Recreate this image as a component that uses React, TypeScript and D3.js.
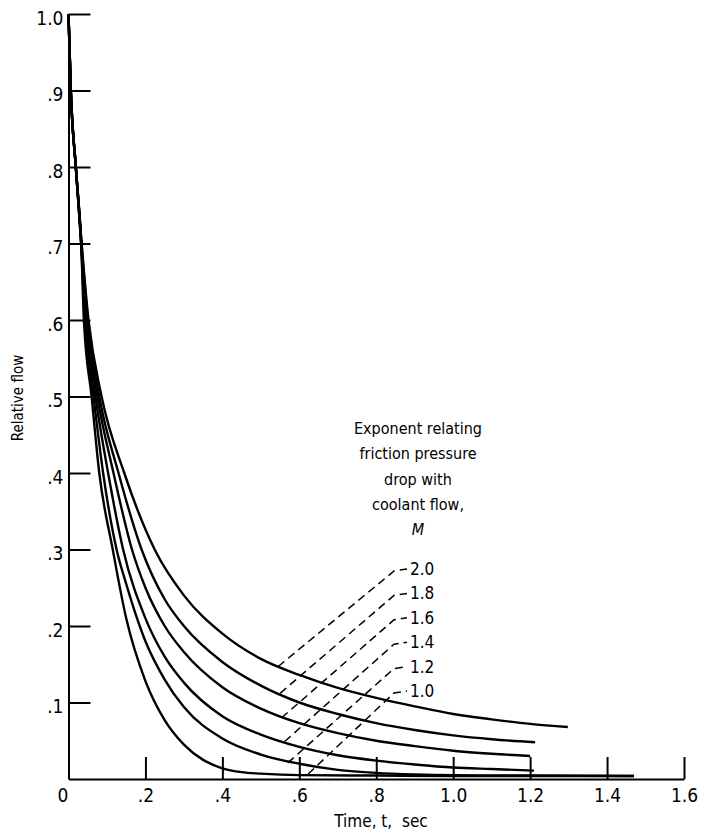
import React, { useEffect, useRef } from "react";
import * as d3 from "d3";

// relative flow vs time, one series per exponent M  ([time, flow])
const curveM20: [number, number][] = [
    [0, 1], [0.006, 0.9], [0.019, 0.8], [0.034, 0.7], [0.052, 0.6], [0.086, 0.5],
    [0.145, 0.4], [0.224, 0.3], [0.3, 0.24], [0.4, 0.19], [0.5, 0.157], [0.6, 0.136],
    [0.7, 0.119], [0.8, 0.106], [0.9, 0.095], [1.0, 0.085], [1.1, 0.078], [1.2, 0.072],
    [1.298, 0.068],
];
const curveM18: [number, number][] = [
    [0, 1], [0.006, 0.9], [0.019, 0.8], [0.034, 0.7], [0.05, 0.6], [0.08, 0.5],
    [0.13, 0.4], [0.19, 0.3], [0.25, 0.235], [0.3, 0.2], [0.4, 0.153], [0.5, 0.122],
    [0.6, 0.1], [0.7, 0.085], [0.8, 0.073], [0.9, 0.064], [1.0, 0.057], [1.1, 0.052],
    [1.213, 0.048],
];
const curveM16: [number, number][] = [
    [0, 1], [0.006, 0.9], [0.019, 0.8], [0.033, 0.7], [0.047, 0.6], [0.075, 0.5],
    [0.117, 0.4], [0.165, 0.3], [0.2, 0.25], [0.25, 0.2], [0.3, 0.166], [0.4, 0.12],
    [0.5, 0.092], [0.6, 0.073], [0.7, 0.06], [0.8, 0.05], [0.9, 0.043], [1.0, 0.037],
    [1.1, 0.033], [1.2, 0.03],
];
const curveM14: [number, number][] = [
    [0, 1], [0.006, 0.9], [0.019, 0.8], [0.033, 0.7], [0.045, 0.6], [0.07, 0.5],
    [0.103, 0.4], [0.142, 0.3], [0.2, 0.21], [0.25, 0.16], [0.3, 0.126], [0.4, 0.082],
    [0.5, 0.058], [0.6, 0.042], [0.7, 0.031], [0.8, 0.024], [0.9, 0.019], [1.0, 0.015],
    [1.1, 0.013], [1.21, 0.011],
];
const curveM12: [number, number][] = [
    [0, 1], [0.006, 0.9], [0.019, 0.8], [0.033, 0.7], [0.042, 0.6], [0.065, 0.5],
    [0.09, 0.4], [0.125, 0.3], [0.15, 0.255], [0.2, 0.18], [0.25, 0.13], [0.3, 0.094],
    [0.4, 0.053], [0.5, 0.032], [0.6, 0.02], [0.7, 0.012], [0.8, 0.008], [0.9, 0.006],
    [1.0, 0.005], [1.2, 0.0045], [1.47, 0.004],
];
const curveM10: [number, number][] = [
    [0, 1], [0.006, 0.9], [0.019, 0.8], [0.033, 0.7], [0.04, 0.6], [0.06, 0.5],
    [0.08, 0.4], [0.115, 0.3], [0.15, 0.21], [0.2, 0.128], [0.25, 0.077], [0.3, 0.045],
    [0.35, 0.025], [0.4, 0.014], [0.45, 0.009], [0.5, 0.007], [0.6, 0.005], [0.8, 0.0045],
    [1.0, 0.004], [1.47, 0.004],
];

const exponentLabels = ["2.0", "1.8", "1.6", "1.4", "1.2", "1.0"];
// point on each curve where its dashed leader line ends
const leaderAnchors: [number, number][] = [
    [0.545, 0.147], [0.55, 0.112], [0.554, 0.08], [0.562, 0.049], [0.57, 0.021], [0.623, 0.0065],
];

const xTicks = [0, 0.2, 0.4, 0.6, 0.8, 1.0, 1.2, 1.4, 1.6];
const xTickLabels = ["0", ".2", ".4", ".6", ".8", "1.0", "1.2", "1.4", "1.6"];
const yTicks = [0.1, 0.2, 0.3, 0.4, 0.5, 0.6, 0.7, 0.8, 0.9, 1.0];
const yTickLabels = [".1", ".2", ".3", ".4", ".5", ".6", ".7", ".8", ".9", "1.0"];
const legendTitle = ["Exponent relating", "friction pressure", "drop with", "coolant flow,", "M"];

const font = "'DejaVu Sans Condensed', 'Liberation Sans Narrow', sans-serif";

const App = () => {
    const chart = useRef<SVGSVGElement>(null);
    const dim = { width: 702, height: 836 };

    useEffect(() => {
        document.body.style.margin = "0";
        const svg = d3
            .select(chart.current)
            .attr("width", dim.width)
            .attr("height", dim.height)
            .style("background-color", "#fff")
            .style("display", "block");
        svg.selectAll("*").remove();

        const x = d3.scaleLinear().domain([0, 1.6]).range([68.5, 684]);
        const y = d3.scaleLinear().domain([0, 1]).range([779, 14]);

        // y axis, ticks pointing inward
        const yAxis = svg
            .append("g")
            .attr("transform", `translate(${x(0)},0)`)
            .call(
                d3.axisLeft(y)
                    .tickValues(yTicks)
                    .tickSize(-22)
                    .tickSizeOuter(0)
                    .tickPadding(5)
                    .tickFormat((d, i) => yTickLabels[i])
            );
        yAxis.select(".domain").attr("stroke-width", 2);
        yAxis.selectAll(".tick line").attr("stroke-width", 2);
        yAxis.selectAll("text")
            .attr("font-family", font)
            .attr("font-size", 19)
            .attr("dy", "0.55em")
            .attr("fill", "#000");

        // x axis
        const xAxis = svg
            .append("g")
            .attr("transform", `translate(0,${y(0)})`)
            .call(
                d3.axisBottom(x)
                    .tickValues(xTicks)
                    .tickSize(-22)
                    .tickSizeOuter(0)
                    .tickPadding(10)
                    .tickFormat((d, i) => xTickLabels[i])
            );
        xAxis.select(".domain").attr("stroke-width", 2);
        xAxis.selectAll(".tick line").attr("stroke-width", 2);
        xAxis.selectAll("text")
            .attr("font-family", font)
            .attr("font-size", 19)
            .attr("fill", "#000")
            .attr("dx", (d, i) => (i === 0 ? -6 : 0));
        svg.selectAll(".domain").attr("stroke", "#000");

        // axis titles
        svg.append("text")
            .attr("x", 381)
            .attr("y", 827)
            .attr("text-anchor", "middle")
            .attr("font-family", font)
            .attr("font-size", 17)
            .attr("xml:space", "preserve")
            .text("Time, t,  sec");
        svg.append("text")
            .attr("transform", "translate(23,398) rotate(-90)")
            .attr("text-anchor", "middle")
            .attr("font-family", font)
            .attr("font-size", 15)
            .text("Relative flow");

        // curves
        const line = d3
            .line<[number, number]>()
            .x((d) => x(d[0]))
            .y((d) => y(d[1]))
            .curve(d3.curveMonotoneX);
        const curves = [curveM20, curveM18, curveM16, curveM14, curveM12, curveM10];
        svg.append("g")
            .selectAll("path")
            .data(curves)
            .join("path")
            .attr("d", (d) => line(d))
            .attr("fill", "none")
            .attr("stroke", "#000")
            .attr("stroke-width", 2.4);

        // legend
        const legend = svg.append("g").attr("font-family", font).attr("fill", "#000");
        legend.selectAll("text.title")
            .data(legendTitle)
            .join("text")
            .attr("class", "title")
            .attr("x", 418)
            .attr("y", (d, i) => 434 + i * 25.3)
            .attr("text-anchor", "middle")
            .attr("font-size", 16)
            .attr("font-style", (d) => (d === "M" ? "italic" : "normal"))
            .text((d) => d);

        const labelY = (i: number) => 575 + i * 24.4;
        legend.selectAll("text.value")
            .data(exponentLabels)
            .join("text")
            .attr("class", "value")
            .attr("x", 410)
            .attr("y", (d, i) => labelY(i))
            .attr("font-size", 17)
            .text((d) => d);

        legend.selectAll("path.leader")
            .data(leaderAnchors)
            .join("path")
            .attr("class", "leader")
            .attr("d", (d, i) => {
                const ly = labelY(i) - 6;
                return `M${x(d[0])},${y(d[1])}L394,${ly + 2}L407,${ly}`;
            })
            .attr("fill", "none")
            .attr("stroke", "#000")
            .attr("stroke-width", 1.5)
            .attr("stroke-dasharray", "8,5");
    }, []);

    return (
        <div id="chartArea">
            <svg ref={chart}></svg>
        </div>
    );
};

export default App;
